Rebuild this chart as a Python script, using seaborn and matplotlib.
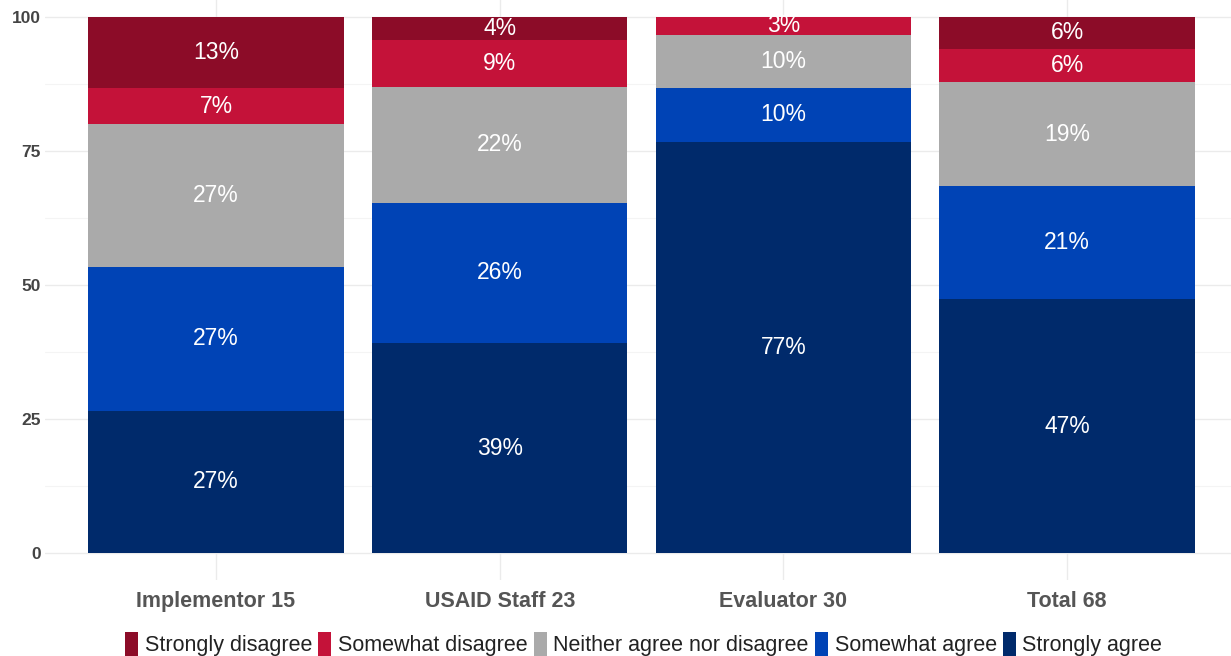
import pandas as pd
import numpy as np
import matplotlib
matplotlib.use("Agg")
import matplotlib.pyplot as plt
import seaborn as sns
from matplotlib.patches import Patch

# ----------- data -----------
groups = ["Implementor 15", "USAID Staff 23", "Evaluator 30", "Total 68"]
levels = ["Strongly disagree", "Somewhat disagree", "Neither agree nor disagree",
          "Somewhat agree", "Strongly agree"]
strongly_disagree = [13.3, 4.3, 0.0, 6.0]
somewhat_disagree = [6.7, 8.7, 3.3, 6.2]
neither = [26.7, 21.7, 10.0, 19.4]
somewhat_agree = [26.7, 26.1, 10.0, 21.0]
strongly_agree = [26.6, 39.2, 76.7, 47.4]
colors = ["#8C0C28", "#C41239", "#AAAAAA", "#0043B5", "#002A6B"]

values = [strongly_disagree, somewhat_disagree, neither, somewhat_agree, strongly_agree]
df = pd.DataFrame({lvl: v for lvl, v in zip(levels, values)}, index=groups)

sns.set_theme(style="white")
plt.rcParams["font.family"] = ["Liberation Sans", "DejaVu Sans"]

fig = plt.figure(figsize=(12.31, 6.56), dpi=100)
ax = fig.add_axes([45 / 1231, 76 / 656, 1186 / 1231, 590 / 656])

# stack from the bottom (strongly agree) upwards, draw tallest first
stack_order = levels[::-1]
cum = df[stack_order].cumsum(axis=1)
for lvl, col in zip(levels, colors):
    d = pd.DataFrame({"group": groups, "value": cum[lvl].values})
    sns.barplot(data=d, x="group", y="value", color=col, width=0.9,
                saturation=1, ax=ax, zorder=2, edgecolor="none")

# percentage labels
for i, g in enumerate(groups):
    bottom = 0
    for lvl in stack_order:
        v = df.loc[g, lvl]
        if v > 0.5:
            ax.text(i, bottom + v / 2, f"{round(v)}%", ha="center", va="center",
                    color="white", fontsize=16.5, zorder=3)
        bottom += v

ax.set_xlim(-0.603, 3.578)
ax.set_ylim(-5, 105)
ax.set_yticks([0, 25, 50, 75, 100])
ax.set_yticks([12.5, 37.5, 62.5, 87.5], minor=True)
ax.grid(True, which="major", color="#EBEBEB", linewidth=1, zorder=0)
ax.grid(True, which="minor", axis="y", color="#F4F4F4", linewidth=0.8, zorder=0)
ax.set_axisbelow(True)
for s in ax.spines.values():
    s.set_visible(False)
ax.set_xlabel("")
ax.set_ylabel("")
ax.tick_params(axis="both", length=0)
ax.tick_params(axis="x", pad=8, labelsize=15.5, labelcolor="#555555")
ax.tick_params(axis="y", pad=3, labelsize=12.5, labelcolor="#444444")
for lab in ax.get_xticklabels() + ax.get_yticklabels():
    lab.set_fontweight("bold")

handles = [Patch(facecolor=c, edgecolor="none", label=l) for l, c in zip(levels, colors)]
fig.legend(handles=handles, loc="center", bbox_to_anchor=(0.523, 0.018), ncol=5,
           frameon=False, fontsize=15.5, handlelength=0.6, handleheight=1.4,
           handletextpad=0.3, columnspacing=0.3, labelcolor="#222222")

fig.savefig("out.png", dpi=100)
